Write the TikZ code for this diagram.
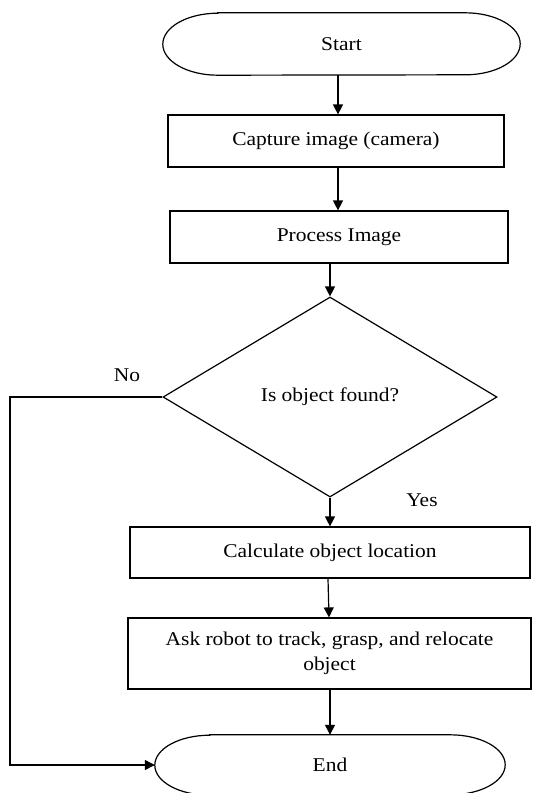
\documentclass[tikz,border=0pt]{standalone}
\usepackage{fontspec}
\setmainfont[FakeStretch=1.1]{Liberation Serif}
\usetikzlibrary{shapes.geometric,arrows.meta,calc}
\begin{document}
\begin{tikzpicture}[x=1pt,y=-1pt,
  every node/.style={font=\fontsize{19.5}{25}\selectfont, inner sep=0pt},
  box/.style={draw, line width=1.2pt, rectangle, align=center},
  term/.style={rectangle, draw=none},
  dec/.style={draw, line width=1.2pt, diamond},
  arr/.style={line width=1.2pt, -{Triangle[length=10pt,width=10pt]}},
  line/.style={line width=1.2pt},
  lbl/.style={}]
\useasboundingbox (0,0) rectangle (534,793);
% terminals
\node[term, minimum width=357pt, minimum height=62pt] (start) at (341.5,44) {Start};
\node[term, minimum width=350pt, minimum height=60pt] (end) at (330,765) {End};
\draw[line] ([xshift=55pt]start.north west) -- ([xshift=-55pt]start.north east)
  arc[start angle=90, end angle=-90, x radius=55pt, y radius=31pt]
  -- ([xshift=55pt]start.south west)
  arc[start angle=-90, end angle=-270, x radius=55pt, y radius=31pt] -- cycle;
\draw[line] ([xshift=55pt]end.north west) -- ([xshift=-55pt]end.north east)
  arc[start angle=90, end angle=-90, x radius=55pt, y radius=30pt]
  -- ([xshift=55pt]end.south west)
  arc[start angle=-90, end angle=-270, x radius=55pt, y radius=30pt] -- cycle;
% process boxes
\node[box, minimum width=336pt, minimum height=52pt] (capture) at (336,141) {Capture image (camera)};
\node[box, minimum width=338pt, minimum height=52pt] (process) at (339,237) {Process Image};
\node[dec, minimum width=334pt, minimum height=200pt] (found) at (330,397) {Is object found?};
\node[box, minimum width=400pt, minimum height=51pt] (calc) at (330,552.5) {Calculate object location};
\node[box, minimum width=403pt, minimum height=71pt] (ask) at (329.5,653.5) {Ask robot to track, grasp, and relocate\\object};
% labels
\node[lbl] (no) at (127,375) {No};
\node[lbl] (yes) at (422,500) {Yes};
\coordinate (lx) at (10,0);
% connectors
\draw[arr] (start.south -| 338,0) -- (capture.north -| 338,0);
\draw[arr] (capture.south -| 338,0) -- (process.north -| 338,0);
\draw[arr] (process.south -| 330,0) -- (found.north);
\draw[arr] (found.south) -- (calc.north -| found.south);
\draw[arr] (calc.south -| 328,0) -- (ask.north -| 329,0);
\draw[arr] (ask.south -| 330,0) -- (end.north -| 330,0);
\draw[arr] (found.west) -- (found.west -| lx) -- (end.west -| lx) -- (end.west);
\end{tikzpicture}
\end{document}
